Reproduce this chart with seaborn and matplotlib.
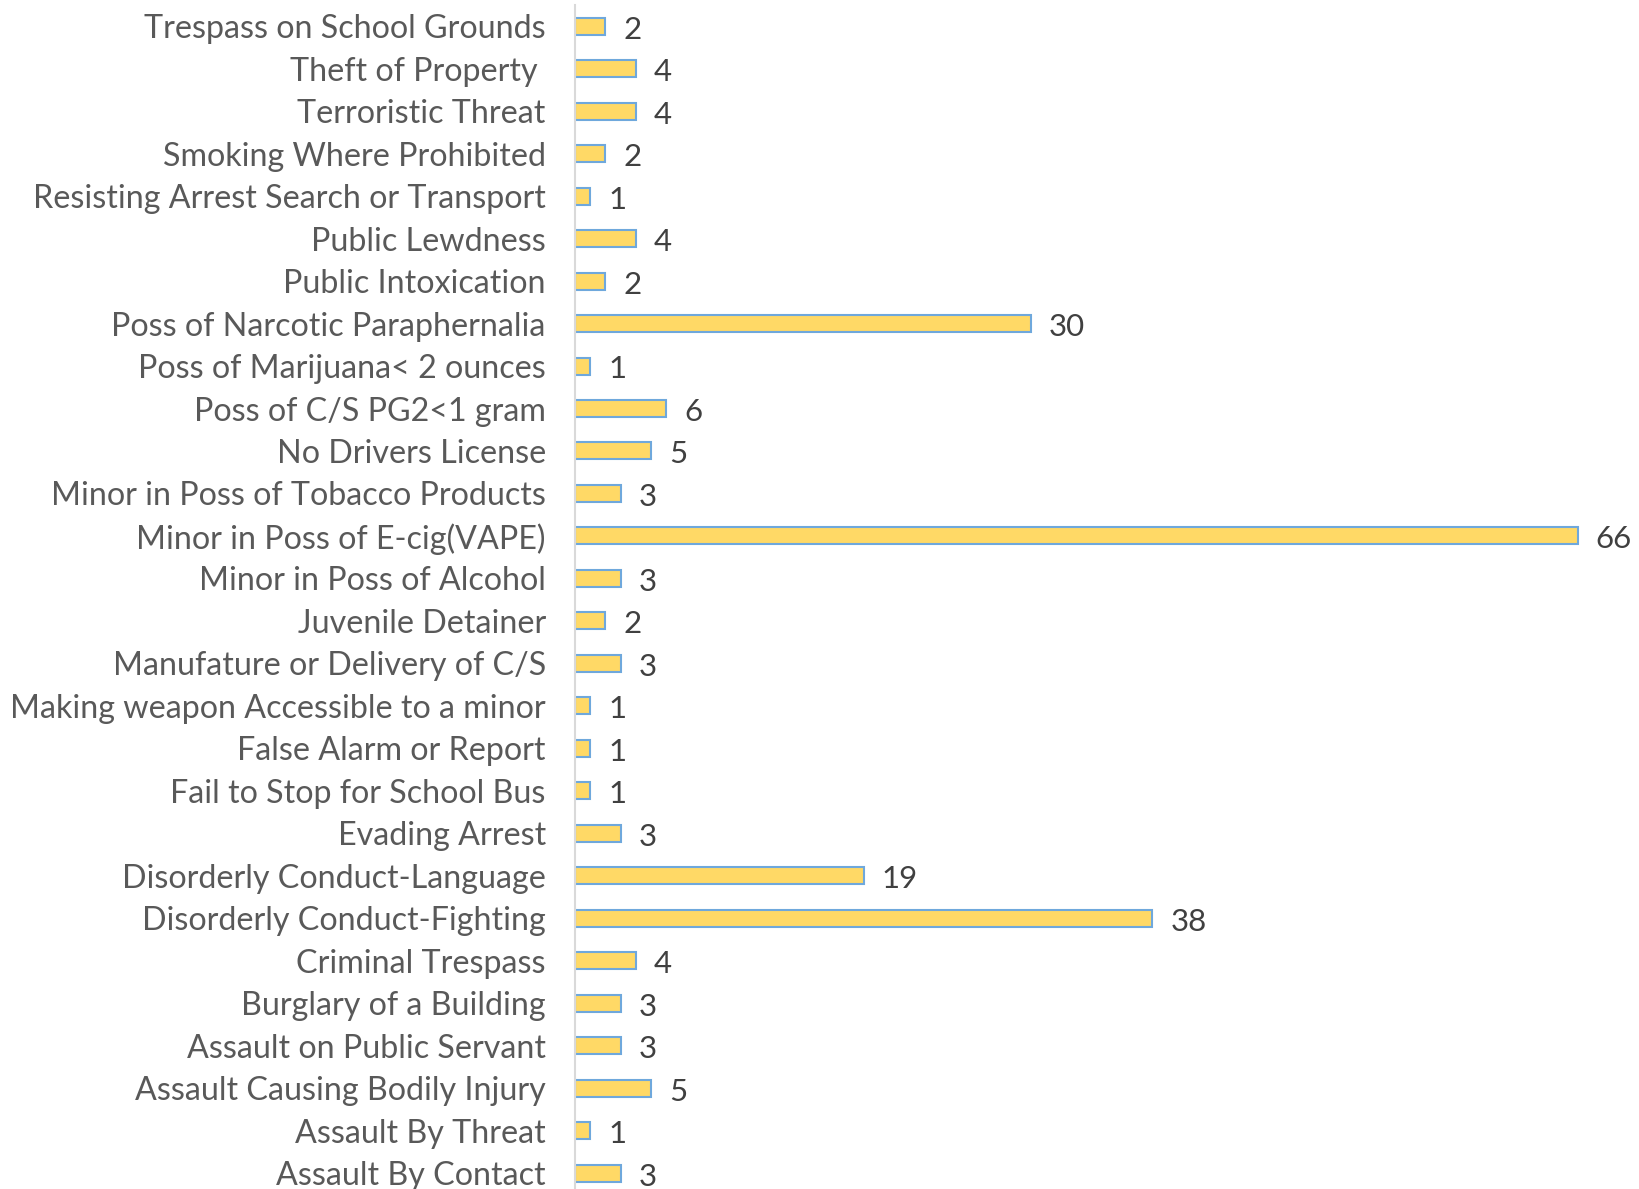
import matplotlib
matplotlib.use("Agg")
import matplotlib.pyplot as plt
import seaborn as sns
import pandas as pd

categories = [
    "Trespass on School Grounds", "Theft of Property ", "Terroristic Threat",
    "Smoking Where Prohibited", "Resisting Arrest Search or Transport",
    "Public Lewdness", "Public Intoxication", "Poss of Narcotic Paraphernalia",
    "Poss of Marijuana< 2 ounces", "Poss of C/S PG2<1 gram", "No Drivers License",
    "Minor in Poss of Tobacco Products", "Minor in Poss of E-cig(VAPE)",
    "Minor in Poss of Alcohol", "Juvenile Detainer", "Manufature or Delivery of C/S",
    "Making weapon Accessible to a minor", "False Alarm or Report",
    "Fail to Stop for School Bus", "Evading Arrest", "Disorderly Conduct-Language",
    "Disorderly Conduct-Fighting", "Criminal Trespass", "Burglary of a Building",
    "Assault on Public Servant", "Assault Causing Bodily Injury",
    "Assault By Threat", "Assault By Contact",
]
counts = [2, 4, 4, 2, 1, 4, 2, 30, 1, 6, 5, 3, 66, 3, 2, 3, 1, 1, 1, 3, 19, 38, 4, 3, 3, 5, 1, 3]

df = pd.DataFrame({"category": categories, "count": counts})

sns.set_style("white")
plt.rcParams["font.family"] = ["Lato", "DejaVu Sans"]

fig = plt.figure(figsize=(16.4, 11.89), dpi=100)
ax = fig.add_axes([575 / 1640, 0.0, 1 - 575 / 1640, 1 - 5 / 1189])

sns.barplot(data=df, x="count", y="category", orient="h", ax=ax,
            color="#FFD966", edgecolor="#6FA8DC", linewidth=1.5, width=0.4,
            saturation=1)

for c in ax.containers:
    labels = ax.bar_label(c, padding=13, fontsize=22.5, color="#404040")
    for t in labels:
        t.xyann = (13, -2.5)

ax.set_xlim(0, 70.1)
ax.set_ylim(27.376, -0.5)
ax.set_xlabel("")
ax.set_ylabel("")
ax.set_xticks([])
ax.tick_params(axis="y", length=0, pad=21, labelsize=23.2, labelcolor="#595959")
for s in ["top", "right", "bottom"]:
    ax.spines[s].set_visible(False)
ax.spines["left"].set_color("#D9D9D9")
ax.spines["left"].set_linewidth(1.5)

fig.savefig("out.png", dpi=100)
